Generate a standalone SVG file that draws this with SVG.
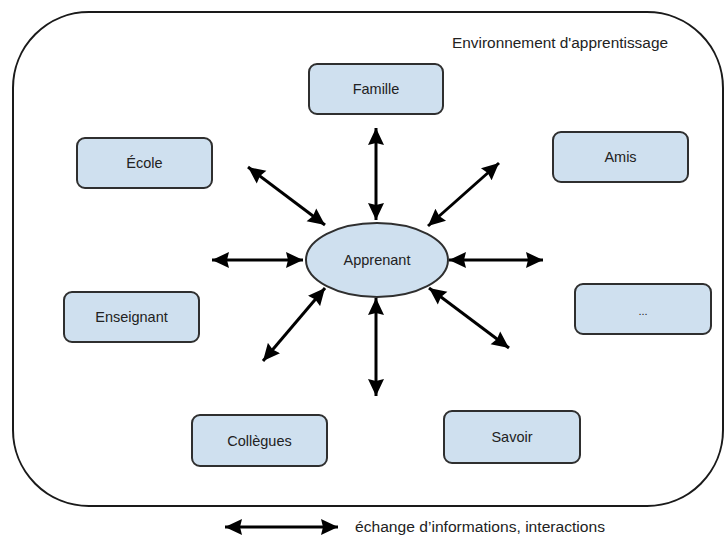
<svg xmlns="http://www.w3.org/2000/svg" width="726" height="537" viewBox="0 0 726 537">
  <style>
    .box { fill: #cfe0ef; stroke: #2f2f2f; stroke-width: 2; }
    .lbl { font-family: "Liberation Sans", Arial, sans-serif; font-size: 14.5px; fill: #222; text-anchor: middle; dominant-baseline: central; }
    .txt { font-family: "Liberation Sans", Arial, sans-serif; font-size: 14px; fill: #222; dominant-baseline: central; }
    .arr { stroke: #000; stroke-width: 3; fill: none; marker-start: url(#ah); marker-end: url(#ah); }
  </style>
  <defs>
    <marker id="ah" markerUnits="userSpaceOnUse" markerWidth="18" markerHeight="18" refX="17" refY="9" orient="auto-start-reverse">
      <path d="M0,1 L17,9 L0,17 L2,9 Z" fill="#000"/>
    </marker>
  </defs>
  <rect width="726" height="537" fill="#fff"/>
  <g id="environnement">
    <rect x="13" y="12" width="710" height="494" rx="76" ry="76" fill="none" stroke="#1a1a1a" stroke-width="2"/>
    <text class="txt" x="452" y="43" textLength="216" lengthAdjust="spacingAndGlyphs">Environnement d'apprentissage</text>
  </g>
  <g id="connectors">
    <line class="arr" x1="376" y1="220" x2="376" y2="128"/>
    <line class="arr" x1="376" y1="298" x2="376" y2="396"/>
    <line class="arr" x1="303" y1="260" x2="212" y2="260"/>
    <line class="arr" x1="449" y1="260" x2="543" y2="260"/>
    <line class="arr" x1="325" y1="225" x2="248" y2="167"/>
    <line class="arr" x1="428" y1="226" x2="499" y2="163"/>
    <line class="arr" x1="325" y1="288" x2="263" y2="361"/>
    <line class="arr" x1="429" y1="288" x2="509" y2="348"/>
  </g>
  <g id="apprenant">
    <ellipse cx="377" cy="260" rx="71" ry="37" class="box"/>
    <text class="lbl" x="377" y="260">Apprenant</text>
  </g>
  <g id="famille">
    <rect class="box" x="309" y="64" width="134" height="50" rx="8"/>
    <text class="lbl" x="376" y="89">Famille</text>
  </g>
  <g id="ecole">
    <rect class="box" x="77" y="138" width="135" height="50" rx="8"/>
    <text class="lbl" x="144.5" y="163">École</text>
  </g>
  <g id="amis">
    <rect class="box" x="553" y="132" width="135" height="50" rx="8"/>
    <text class="lbl" x="620.5" y="157">Amis</text>
  </g>
  <g id="enseignant">
    <rect class="box" x="64" y="292" width="135" height="50" rx="8"/>
    <text class="lbl" x="131.5" y="317">Enseignant</text>
  </g>
  <g id="autres">
    <rect class="box" x="575" y="284" width="136" height="50" rx="8"/>
    <text class="lbl" x="643" y="311" style="font-size:11px">...</text>
  </g>
  <g id="collegues">
    <rect class="box" x="192" y="415" width="135" height="51" rx="8"/>
    <text class="lbl" x="259.5" y="440.5">Collègues</text>
  </g>
  <g id="savoir">
    <rect class="box" x="444" y="411" width="136" height="52" rx="8"/>
    <text class="lbl" x="512" y="437">Savoir</text>
  </g>
  <g id="legende">
    <line class="arr" x1="225" y1="527" x2="338" y2="527"/>
    <text class="txt" x="355" y="527" textLength="250" lengthAdjust="spacingAndGlyphs">échange d’informations, interactions</text>
  </g>
</svg>
